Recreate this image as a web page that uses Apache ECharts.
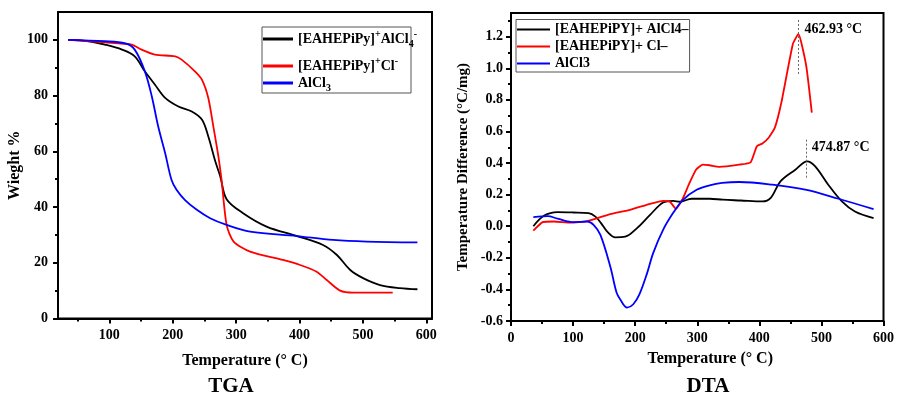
<!DOCTYPE html>
<html>
<head>
<meta charset="utf-8">
<script src="https://cdn.jsdelivr.net/npm/echarts@6/dist/echarts.min.js"></script>
<style>
  html, body { margin: 0; background: #fff; }
  #chart { width: 897px; height: 399px; }
</style>
</head>
<body>
<div id="chart"></div>
<script>
// TGA: [temperature °C, weight %]
const tgaSalt = [
  [35, 100], [67, 99.5], [93, 98.3], [120, 96.5], [140, 94.1], [156, 88.7], [172, 83.9],
  [188, 79.2], [209, 76.1], [230, 74.3], [246, 71.4], [256, 65.4], [267, 56.5], [275, 51],
  [285, 42.8], [311, 37.8], [348, 33], [396, 29.6], [437, 26.4], [459, 22.8], [480, 17.4],
  [501, 14.4], [527, 12], [558, 10.9], [586, 10.5]
];
const tgaIonicLiquid = [
  [35, 100], [93, 99.1], [135, 98.3], [151, 96.5], [172, 94.7], [204, 94.1], [214, 92.9],
  [235, 88.7], [246, 85.7], [256, 79.2], [264, 69], [272, 58.2], [277, 49.8], [285, 33.6],
  [296, 27.6], [322, 24], [374, 21], [401, 19.2], [427, 16.8], [443, 13.8], [464, 10],
  [485, 9.3], [547, 9.3]
];
const tgaAlCl3 = [
  [35, 100], [93, 99.5], [125, 98.7], [140, 96.5], [156, 88.7], [167, 79.7], [177, 69],
  [188, 59.4], [198, 49.8], [206, 46.2], [219, 42.6], [238, 39], [259, 36], [285, 33.6],
  [322, 31.2], [396, 29.6], [453, 28.2], [506, 27.6], [586, 27.3]
];

// DTA: [temperature °C, temperature difference °C/mg]
const dtaSalt = [
  [36, 0.0], [53, 0.066], [75, 0.089], [100, 0.087], [125, 0.083], [136, 0.061], [145, 0.02],
  [155, -0.034], [168, -0.07], [184, -0.066], [203, -0.012], [224, 0.072], [245, 0.15],
  [261, 0.161], [272, 0.155], [291, 0.174], [320, 0.174], [341, 0.168], [370, 0.163],
  [405, 0.157], [418, 0.178], [434, 0.284], [458, 0.358], [477, 0.411], [490, 0.379],
  [511, 0.263], [533, 0.157], [554, 0.093], [584, 0.051]
];
const dtaIonicLiquid = [
  [36, -0.028], [51, 0.026], [69, 0.03], [96, 0.023], [123, 0.033], [160, 0.077], [192, 0.104],
  [224, 0.142], [245, 0.161], [256, 0.155], [265.6, 0.11], [277, 0.178], [287.5, 0.274],
  [298, 0.358], [309, 0.39], [320, 0.386], [335.5, 0.376], [367.5, 0.39], [386, 0.405],
  [396, 0.507], [405, 0.524], [415, 0.56], [425, 0.624], [435.5, 0.783], [454, 1.154],
  [463, 1.217], [475.5, 1.016], [484.5, 0.719]
];
const dtaAlCl3 = [
  [36, 0.057], [50, 0.062], [59, 0.064], [75, 0.048], [101, 0.026], [123, 0.03], [133, 0.008],
  [144, -0.055], [160, -0.257], [170, -0.42], [176, -0.464], [187, -0.515], [197, -0.494],
  [207, -0.43], [219, -0.3], [229, -0.17], [245, -0.023], [261, 0.083], [277, 0.167],
  [299, 0.231], [320, 0.259], [340, 0.274], [367.5, 0.28], [421, 0.263], [474, 0.231],
  [527.5, 0.174], [584, 0.108]
];

// DTA peak annotations: [temperature, top of marker, bottom of marker, label height]
const peakIonicLiquid = [462.93, 1.306, 0.962, 1.245];
const peakSalt = [474.87, 0.548, 0.294, 0.5];

// axis ticks
const tgaTempTicks = [100, 200, 300, 400, 500, 600];
const tgaTempMinor = [50, 150, 250, 350, 450, 550];
const tgaWeightTicks = [0, 20, 40, 60, 80, 100];
const tgaWeightMinor = [10, 30, 50, 70, 90];
const dtaTempTicks = [0, 100, 200, 300, 400, 500, 600];
const dtaTempMinor = [50, 150, 250, 350, 450, 550];
const dtaDiffTicks = [-0.6, -0.4, -0.2, 0, 0.2, 0.4, 0.6, 0.8, 1.0, 1.2];
const dtaDiffMinor = [-0.5, -0.3, -0.1, 0.1, 0.3, 0.5, 0.7, 0.9, 1.1, 1.3];

// legend names
const tgaNames = ['[EAHEPiPy]+AlCl4-', '[EAHEPiPy]+Cl-', 'AlCl3'];
const tgaLegendRich = [
  '{n|[EAHEPiPy]}{sup|+}{n|AlCl}{sub|4}{sup|-}',
  '{n|[EAHEPiPy]}{sup|+}{n|Cl}{sup|-}',
  '{n|AlCl}{sub|3}'
];
const dtaNames = ['[EAHEPiPY]+ AlCl4\u2013', '[EAHEPiPY]+ Cl\u2013', 'AlCl3'];

const serif = '"Liberation Serif", "Times New Roman", serif';
const colors = ['#000000', '#ff0000', '#0000ff'];

const chart = echarts.init(document.getElementById('chart'));

function mainAxis(gridIndex, min, max, ticks, pos, fmt, margin) {
  return {
    type: 'value', gridIndex, min, max, position: pos,
    axisLine: { show: true, onZero: false, lineStyle: { color: '#000', width: 2 } },
    axisTick: { show: true, inside: false, length: 5, customValues: ticks, lineStyle: { color: '#000', width: 2 } },
    axisLabel: {
      customValues: ticks, margin, color: '#000', fontFamily: serif, fontWeight: 'bold', fontSize: 14,
      formatter: fmt
    },
    splitLine: { show: false }
  };
}
function minorAxis(gridIndex, min, max, ticks, pos) {
  return {
    type: 'value', gridIndex, min, max, position: pos,
    axisLine: { show: false, onZero: false },
    axisTick: { show: true, inside: false, length: 3, customValues: ticks, lineStyle: { color: '#000', width: 2 } },
    axisLabel: { show: false },
    splitLine: { show: false }
  };
}
const nameStyle = { color: '#000', fontFamily: serif, fontWeight: 'bold', fontSize: 16 };

const xAxes = [
  Object.assign(mainAxis(0, 19, 609, tgaTempTicks, 'bottom', v => String(v), 10), {
    name: 'Temperature (\u00b0 C)', nameLocation: 'middle', nameGap: 34, nameTextStyle: nameStyle
  }),
  minorAxis(0, 19, 609, tgaTempMinor, 'bottom'),
  Object.assign(mainAxis(1, 0, 600, dtaTempTicks, 'bottom', v => String(v), 10), {
    name: 'Temperature (\u00b0 C)', nameLocation: 'middle', nameGap: 30,
    nameTextStyle: Object.assign({ padding: [0, 0, 0, 26] }, nameStyle)
  }),
  minorAxis(1, 0, 600, dtaTempMinor, 'bottom')
];
const yAxes = [
  Object.assign(mainAxis(0, 0, 110, tgaWeightTicks, 'left', v => String(v), 10), {
    name: 'Wieght %', nameLocation: 'middle', nameGap: 31, nameTextStyle: nameStyle
  }),
  minorAxis(0, 0, 110, tgaWeightMinor, 'left'),
  Object.assign(mainAxis(1, -0.6, 1.35, dtaDiffTicks, 'left', v => Number(v).toFixed(1), 8), {
    name: 'Temperature Difference (\u00b0C/mg)', nameLocation: 'middle', nameGap: 40,
    nameTextStyle: Object.assign({}, nameStyle, { fontSize: 15 })
  }),
  minorAxis(1, -0.6, 1.35, dtaDiffMinor, 'left')
];

function lineSeries(name, data, axis, color, smooth) {
  return {
    name, type: 'line', data, xAxisIndex: axis, yAxisIndex: axis,
    symbol: 'none', smooth,
    lineStyle: { color, width: 1.8 }, itemStyle: { color },
    z: 3
  };
}
function peakMarks(peak) {
  const lbl = peak[0].toFixed(2) + ' \u00b0C';
  return {
    markLine: {
      silent: true, symbol: 'none', label: { show: false },
      lineStyle: { color: '#666', type: [2, 2], width: 1 },
      data: [[{ coord: [peak[0], peak[1]] }, { coord: [peak[0], peak[2]] }]]
    },
    markPoint: {
      silent: true, symbol: 'circle', symbolSize: 0,
      data: [{ coord: [peak[0], peak[3]] }],
      label: {
        show: true, position: 'right', distance: 6, formatter: lbl,
        color: '#000', fontFamily: serif, fontWeight: 'bold', fontSize: 14
      }
    }
  };
}

const richLegend = {
  n: { fontFamily: serif, fontWeight: 'bold', fontSize: 14, color: '#000', lineHeight: 20 },
  sup: { fontFamily: serif, fontWeight: 'bold', fontSize: 10, color: '#000', verticalAlign: 'top', lineHeight: 10 },
  sub: { fontFamily: serif, fontWeight: 'bold', fontSize: 10, color: '#000', verticalAlign: 'bottom', lineHeight: 10 }
};
const tgaFormatter = name => tgaLegendRich[tgaNames.indexOf(name)] || name;

const option = {
  animation: false,
  backgroundColor: '#fff',
  grid: [
    { left: 58, right: 465, top: 12, bottom: 80.5, show: true, borderColor: '#000', borderWidth: 2, backgroundColor: 'transparent' },
    { left: 511, right: 11, top: 13, bottom: 78, show: true, borderColor: '#000', borderWidth: 2, backgroundColor: 'transparent' }
  ],
  xAxis: xAxes,
  yAxis: yAxes,
  legend: [
    {
      data: [tgaNames[0]], orient: 'vertical', left: 263, top: 29, padding: 0,
      icon: 'rect', itemWidth: 30, itemHeight: 3,
      textStyle: { rich: richLegend }, formatter: tgaFormatter
    },
    {
      data: [tgaNames[1], tgaNames[2]], orient: 'vertical', left: 263, top: 56, padding: 0, itemGap: 3,
      icon: 'rect', itemWidth: 30, itemHeight: 3,
      textStyle: { rich: richLegend }, formatter: tgaFormatter
    },
    {
      data: dtaNames, orient: 'vertical', left: 516, top: 19.5, padding: [1.5, 1, 0, 1], itemGap: 0,
      icon: 'rect', itemWidth: 33, itemHeight: 2,
      borderColor: '#555', borderWidth: 1,
      textStyle: { fontFamily: serif, fontWeight: 'bold', fontSize: 14, lineHeight: 17, color: '#000' }
    }
  ],
  graphic: [
    { type: 'rect', shape: { x: 262, y: 27, width: 149, height: 66 }, style: { fill: 'none', stroke: '#555', lineWidth: 1 }, silent: true },
    { type: 'text', x: 231, y: 387, style: { text: 'TGA', fontFamily: serif, fontWeight: 'bold', fontSize: 21, fill: '#000', textAlign: 'center', textVerticalAlign: 'middle' } },
    { type: 'text', x: 708, y: 387, style: { text: 'DTA', fontFamily: serif, fontWeight: 'bold', fontSize: 21, fill: '#000', textAlign: 'center', textVerticalAlign: 'middle' } }
  ],
  series: [
    lineSeries(tgaNames[0], tgaSalt, 0, colors[0], 0.35),
    lineSeries(tgaNames[1], tgaIonicLiquid, 0, colors[1], 0.25),
    lineSeries(tgaNames[2], tgaAlCl3, 0, colors[2], 0.35),
    Object.assign(lineSeries(dtaNames[0], dtaSalt, 2, colors[0], 0.35), peakMarks(peakSalt)),
    Object.assign(lineSeries(dtaNames[1], dtaIonicLiquid, 2, colors[1], 0.15), peakMarks(peakIonicLiquid)),
    lineSeries(dtaNames[2], dtaAlCl3, 2, colors[2], 0.35)
  ]
};

chart.setOption(option);
window.addEventListener('resize', () => chart.resize());
</script>
</body>
</html>
